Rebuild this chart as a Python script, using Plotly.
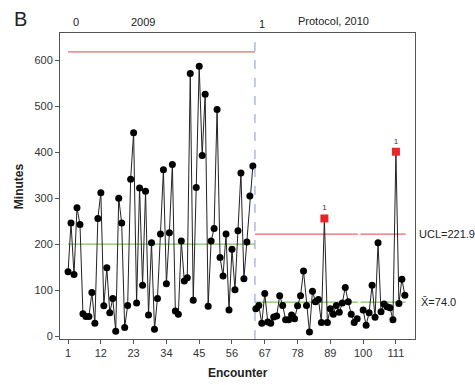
import plotly.graph_objects as go

# ---- data ----
phase1_minutes = [140, 246, 134, 279, 243, 49, 43, 43, 95, 28,
                  256, 312, 66, 149, 51, 82, 11, 300, 246, 19,
                  67, 341, 442, 72, 322, 111, 315, 46, 203, 15,
                  82, 222, 362, 114, 225, 373, 55, 48, 207, 120,
                  127, 571, 78, 323, 587, 393, 526, 65, 207, 234,
                  493, 171, 131, 222, 57, 189, 101, 229, 355, 125,
                  205, 305, 370]
phase2_minutes = [60, 67, 28, 93, 31, 28, 42, 44, 88, 67,
                  36, 36, 46, 38, 66, 88, 142, 67, 9, 98,
                  75, 80, 30, 256, 30, 60, 48, 67, 52, 72,
                  106, 75, 48, 30, 38, None, 57, 24, 51, 111,
                  41, 203, 53, 70, 64, 62, 36, 401, 71, 124, 89]
phase1_start = 1
phase2_start = 64
ucl = [618.0, 221.9]
center = [200.0, 74.0]
flagged = [87, 111]        # encounters beyond UCL (test 1)
x_ticks = [1, 12, 23, 34, 45, 56, 67, 78, 89, 100, 111]
y_ticks = [0, 100, 200, 300, 400, 500, 600]
stage_labels = ["0", "2009", "1", "Protocol, 2010"]

x1 = list(range(phase1_start, phase1_start + len(phase1_minutes)))
x2 = list(range(phase2_start, phase2_start + len(phase2_minutes)))
all_x = x1 + x2
all_y = phase1_minutes + phase2_minutes

FONT = "Liberation Sans, Arial, sans-serif"
boundary = phase2_start - 0.3
end_x = x2[-1] + 0.3

fig = go.Figure()

# limit & center lines (with break at the missing encounter)
miss = [x for x, v in zip(x2, phase2_minutes) if v is None]
def seg(x0, x1_, val, gaps):
    xs, ys = [x0], [val]
    for g in gaps:
        xs += [g - 0.8, None, g + 0.1]
        ys += [val, None, val]
    xs.append(x1_); ys.append(val)
    return xs, ys

for (xa, xb, u, c, gaps) in [(x1[0], boundary, ucl[0], center[0], []),
                             (boundary, end_x, ucl[1], center[1], miss)]:
    sx, sy = seg(xa, xb, u, gaps)
    fig.add_trace(go.Scatter(x=sx, y=sy, mode="lines",
                             line=dict(color="#e46a6a", width=1.3),
                             hoverinfo="skip", showlegend=False))
    sx, sy = seg(xa, xb, c, gaps)
    fig.add_trace(go.Scatter(x=sx, y=sy, mode="lines",
                             line=dict(color="#7cc25a", width=1.3),
                             hoverinfo="skip", showlegend=False))

# data
for xs, ys in [(x1, phase1_minutes), (x2, phase2_minutes)]:
    fig.add_trace(go.Scatter(x=xs, y=ys, mode="lines+markers",
                             line=dict(color="#222222", width=1),
                             marker=dict(color="black", size=7),
                             connectgaps=False, showlegend=False))

fx = flagged
fy = [all_y[all_x.index(v)] for v in flagged]
fig.add_trace(go.Scatter(x=fx, y=fy, mode="markers+text",
                         marker=dict(color="#e8262a", size=8, symbol="square"),
                         text=["1"] * len(fx), textposition="top center",
                         textfont=dict(size=8, color="#333", family=FONT),
                         showlegend=False))

# stage divider
fig.add_shape(type="line", x0=boundary, x1=boundary, y0=0, y1=1,
              xref="x", yref="paper",
              line=dict(color="#9fb0d6", width=1.3, dash="dash"))

annotations = [
    dict(x=3.7, y=1.035, text=stage_labels[0]),
    dict(x=26, y=1.035, text=stage_labels[1]),
    dict(x=66, y=1.028, text=stage_labels[2]),
    dict(x=90, y=1.038, text=stage_labels[3]),
]
for a in annotations:
    fig.add_annotation(xref="x", yref="paper", showarrow=False,
                       yanchor="middle", xanchor="center",
                       font=dict(size=11, color="#222", family=FONT), **a)

fig.add_annotation(xref="paper", yref="y", x=1.006, y=ucl[1],
                   text=f"UCL={ucl[1]:.1f}", showarrow=False, xanchor="left",
                   font=dict(size=11, color="#222", family=FONT))
fig.add_annotation(xref="paper", yref="y", x=1.012, y=center[1],
                   text=f"X\u0304={center[1]:.1f}", showarrow=False, xanchor="left",
                   font=dict(size=11, color="#222", family=FONT))
fig.add_annotation(xref="paper", yref="paper", x=-0.11, y=1.045,
                   text="B", showarrow=False, xanchor="center", yanchor="middle",
                   font=dict(size=20, color="#222", family=FONT))
fig.add_annotation(xref="paper", yref="paper", x=-0.115, y=0.5,
                   text="<b>Minutes</b>", showarrow=False, textangle=-90,
                   xanchor="center", yanchor="middle",
                   font=dict(size=12, color="#222", family=FONT))
fig.add_annotation(xref="paper", yref="paper", x=0.5, y=-0.11,
                   text="<b>Encounter</b>", showarrow=False,
                   xanchor="center", yanchor="middle",
                   font=dict(size=12, color="#222", family=FONT))

fig.update_layout(
    width=475, height=385,
    margin=dict(l=60, r=60, t=33, b=46),
    paper_bgcolor="white", plot_bgcolor="white",
    font=dict(family=FONT, size=11, color="#333"),
    showlegend=False,
)
fig.update_xaxes(range=[-1.7, 117.4], tickvals=x_ticks, ticks="outside",
                 ticklen=4, tickcolor="#555", showline=True, linecolor="#555",
                 mirror=True, showgrid=False, zeroline=False,
                 tickfont=dict(size=11, color="#333", family=FONT))
fig.update_yaxes(range=[-6, 659], tickvals=y_ticks, ticks="outside",
                 ticklen=4, tickcolor="#555", showline=True, linecolor="#555",
                 mirror=True, showgrid=False, zeroline=False,
                 tickfont=dict(size=11, color="#333", family=FONT))

fig.write_html("out.html")
